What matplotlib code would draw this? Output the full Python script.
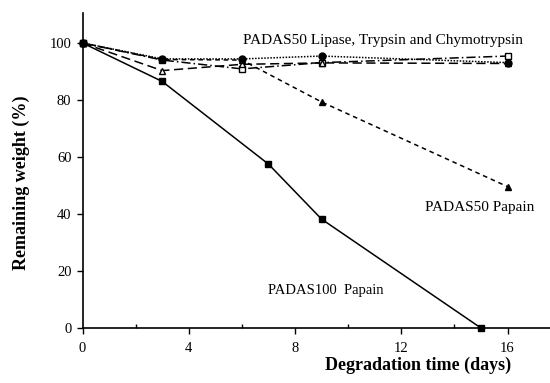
import matplotlib
matplotlib.use("Agg")
import matplotlib.pyplot as plt
from matplotlib.ticker import MultipleLocator

plt.rcParams["font.family"] = ["Liberation Serif", "DejaVu Serif"]

# remaining weight (%) vs. degradation time (days)
days_p100 = [0, 3, 7, 9, 15]
w_p100 = [100, 86.5, 57.5, 38.2, 0]

days_50 = [0, 3, 6, 9, 16]
w_p50_papain = [100, 94.2, 94.0, 79.3, 49.6]
w_circle = [100, 94.4, 94.4, 95.4, 93.1]
w_open_sq = [100, 94.0, 90.9, 93.1, 95.4]
w_open_tri = [100, 90.3, 92.5, 93.0, 92.8]

fig = plt.figure(figsize=(5.5, 3.83), dpi=100)
ax = fig.add_axes([0.150, 0.1436, 0.850, 0.8224])

ms = 5
lw = 1.1
ax.plot(days_50, w_open_sq, color="black", lw=lw, ls=(0, (6, 2, 1, 2)),
        marker="s", mfc="white", mec="black", ms=ms, clip_on=False)
ax.plot(days_50, w_open_tri, color="black", lw=lw, ls=(0, (6, 3)),
        marker="^", mfc="white", mec="black", ms=ms, clip_on=False)
ax.plot(days_50, w_circle, color="black", lw=lw, ls=(0, (1, 1)),
        marker="o", mfc="black", mec="black", ms=ms, clip_on=False)
ax.plot(days_50, w_p50_papain, color="black", lw=lw, ls=(0, (3, 2.5)),
        marker="^", mfc="black", mec="black", ms=ms, clip_on=False)
ax.plot(days_p100, w_p100, color="black", lw=lw, ls="-",
        marker="s", mfc="black", mec="black", ms=ms, clip_on=False)

ax.set_xlim(0, 17.6)
ax.set_ylim(0, 110.5)
ax.yaxis.set_major_locator(MultipleLocator(20))
ax.set_xticks([0, 4, 8, 12, 16])
ax.set_xticks([2, 6, 10, 14], minor=True)

ax.spines["top"].set_visible(False)
ax.spines["right"].set_visible(False)
for s in ("left", "bottom"):
    ax.spines[s].set_linewidth(1.2)

ax.tick_params(axis="both", which="major", direction="out", length=4,
               width=1, labelsize=10.5, pad=4)
ax.tick_params(axis="x", which="minor", direction="in", length=3, width=1)
ax.tick_params(axis="x", which="major", pad=6)

ax.set_ylabel("Remaining weight (%)", fontsize=13, fontweight="bold")
ax.yaxis.set_label_coords(-0.113, 0.46)
ax.set_xlabel("Degradation time (days)", fontsize=13, fontweight="bold",
              va="center")
ax.xaxis.set_label_coords(0.7175, -0.117)

ax.text(6.05, 101, "PADAS50 Lipase, Trypsin and Chymotrypsin",
        fontsize=11, ha="left", va="center")
ax.text(12.9, 42.1, "PADAS50 Papain", fontsize=11, ha="left", va="center")
ax.text(7.0, 13.3, "PADAS100  Papain", fontsize=10.5, ha="left", va="center")

fig.savefig("out.png", dpi=100)
